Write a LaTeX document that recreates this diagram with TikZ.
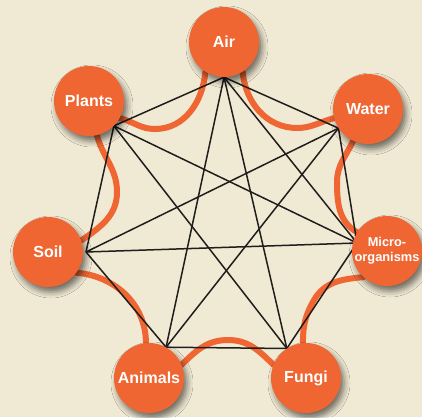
\documentclass[tikz,border=0pt]{standalone}
\usepackage{fontspec}
\setmainfont{Liberation Sans}
\usetikzlibrary{backgrounds,shadows.blur}

\definecolor{paper}{RGB}{240,233,211}
\definecolor{clay}{RGB}{239,102,50}
\definecolor{ink}{RGB}{32,30,28}

\begin{document}
\begin{tikzpicture}[x=1pt, y=1pt,
  element/.style={circle, fill=clay, minimum size=70pt, inner sep=0pt, text=white,
                  font=\bfseries\fontsize{16}{18}\selectfont, align=center,
                  blur shadow={shadow xshift=3pt, shadow yshift=-5pt,
                               shadow blur radius=6pt, shadow opacity=55}},
  small/.style={font=\bfseries\fontsize{12.8}{15}\selectfont},
  loopline/.style={clay, line width=6pt, line cap=round},
  tie/.style={ink, line width=1.5pt},
]

\useasboundingbox (0,0) rectangle (422,-417);

% Elements
\node[element] (air)     at (224,-42)  {Air};
\node[element] (plants)  at (89,-101)  {Plants};
\node[element] (water)   at (368,-109) {Water};
\node[element] (soil)    at (48,-252)  {Soil};
\node[element, small] (micro) at (387,-251) {Micro-\\organisms};
\node[element] (animals) at (149,-378) {Animals};
\node[element] (fungi)   at (306,-378) {Fungi};

% Points where the ties meet
\coordinate (air-p)     at (air.south);
\coordinate (plants-p)  at (plants.-45);
\coordinate (water-p)   at (water.213);
\coordinate (soil-p)    at (86,-252);
\coordinate (micro-p)   at (357,-243);
\coordinate (animals-p) at (animals.61);
\coordinate (fungi-p)   at (fungi.123);

\begin{scope}[on background layer]
  \fill[paper] (0,0) rectangle (422,-417);

  % Wavy ring between neighbours
  \draw[loopline] (air.-58) to[out=-85, in=180] (297,-128) to[out=0, in=195] (water.195);
  \draw[loopline] (air.-122) to[out=-95, in=0] (155,-129) to[out=180, in=-15] (plants.-29);
  \draw[loopline] (water.245) to[out=245, in=90] (337,-182) to[out=-90, in=150] (micro.148);
  \draw[loopline] (micro.228) to[out=185, in=60] (314,-300) to[out=-120, in=90] (fungi.95);
  \draw[loopline] (fungi.158) to[out=135, in=0] (228,-340) to[out=180, in=45] (animals.22);
  \draw[loopline] (animals.95) to[out=90, in=-5] (soil.-36);
  \draw[loopline] (soil.19) to[out=35, in=-90] (117,-192) to[out=90, in=-75] (plants.-77);

  % Ties
  \foreach \a/\b in {air/water, water/micro, micro/fungi, fungi/animals,
                     animals/soil, soil/plants, plants/air,
                     air/fungi, air/animals, water/animals, water/soil,
                     micro/soil, micro/plants, fungi/plants, air/micro}
    \draw[tie] (\a-p) -- (\b-p);
\end{scope}

\end{tikzpicture}
\end{document}
